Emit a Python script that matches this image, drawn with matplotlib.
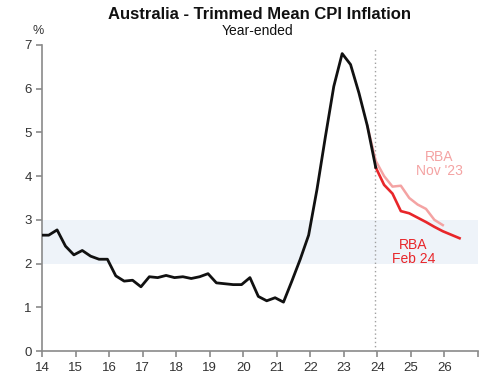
import matplotlib
matplotlib.use("Agg")
import matplotlib.pyplot as plt
import numpy as np

plt.rcParams['font.family'] = ['Liberation Sans', 'DejaVu Sans']

# Quarterly year-ended trimmed mean CPI (Dec 2013 .. Dec 2023)
actual_start = 13.95
actual = [2.65, 2.65, 2.77, 2.4, 2.2, 2.3, 2.17, 2.1, 2.1, 1.72, 1.6, 1.62, 1.47,
          1.7, 1.68, 1.73, 1.68, 1.7, 1.66, 1.7, 1.77, 1.56, 1.54, 1.52, 1.52,
          1.68, 1.25, 1.15, 1.22, 1.12, 1.6, 2.1, 2.65, 3.7, 4.9, 6.05, 6.8,
          6.55, 5.9, 5.15, 4.2]
# RBA Nov '23 forecast (Sep 2023 .. Dec 2025)
nov23_start = 23.7
nov23 = [5.15, 4.35, 4.0, 3.76, 3.78, 3.5, 3.35, 3.25, 3.0, 2.88]
# RBA Feb 24 forecast (Dec 2023 .. Jun 2026)
feb24_start = 23.95
feb24 = [4.2, 3.8, 3.6, 3.2, 3.15, 3.05, 2.95, 2.84, 2.74, 2.66, 2.58]

band = (2, 3)
xticks = list(range(14, 28))
xticklabels = [str(t) if t <= 26 else "" for t in xticks]
yticks = list(range(0, 8))

def qx(start, n):
    return start + 0.25 * np.arange(n)

fig = plt.figure(figsize=(5, 3.8), dpi=100)
ax = fig.add_axes([0.084, 0.076, 0.872, 0.806])

ax.axhspan(band[0], band[1], color='#eef3f9', zorder=0, lw=0)
ax.axvline(23.92, ymax=0.985, color='#a0a0a0', ls=(0, (1, 2)), lw=1.0, zorder=1)

ax.plot(qx(nov23_start, len(nov23)), nov23, color='#f4a3a3', lw=1.8, zorder=2)
ax.plot(qx(feb24_start, len(feb24)), feb24, color='#e8262a', lw=1.9, zorder=3)
ax.plot(qx(actual_start, len(actual)), actual, color='#111111', lw=2.0, zorder=4,
        solid_joinstyle='round')

ax.set_xlim(14, 27)
ax.set_ylim(0, 7)
ax.set_xticks(xticks)
ax.set_xticklabels(xticklabels)
ax.set_yticks(yticks)
for s in ['top', 'right']:
    ax.spines[s].set_visible(False)
for s in ['left', 'bottom']:
    ax.spines[s].set_color('#8a8a8a')
    ax.spines[s].set_linewidth(1.2)
ax.tick_params(axis='both', colors='#8a8a8a', labelcolor='#333333',
               labelsize=9.5, length=4, width=1.2, direction='out')

ax.text(25.85, 4.28, "RBA\nNov '23", color='#f4a3a3', fontsize=10,
        ha='center', va='center', linespacing=1.05)
ax.text(25.07, 2.27, "RBA\nFeb 24", color='#e8262a', fontsize=10,
        ha='center', va='center', linespacing=1.05)

fig.text(0.518, 0.962, "Australia - Trimmed Mean CPI Inflation", ha='center',
         va='center', fontsize=12, fontweight='bold', color='#111111')
fig.text(0.514, 0.918, "Year-ended", ha='center', va='center', fontsize=10,
         color='#111111')
fig.text(0.076, 0.918, "%", ha='center', va='center', fontsize=9, color='#333333')

fig.savefig("out.png", dpi=100)
